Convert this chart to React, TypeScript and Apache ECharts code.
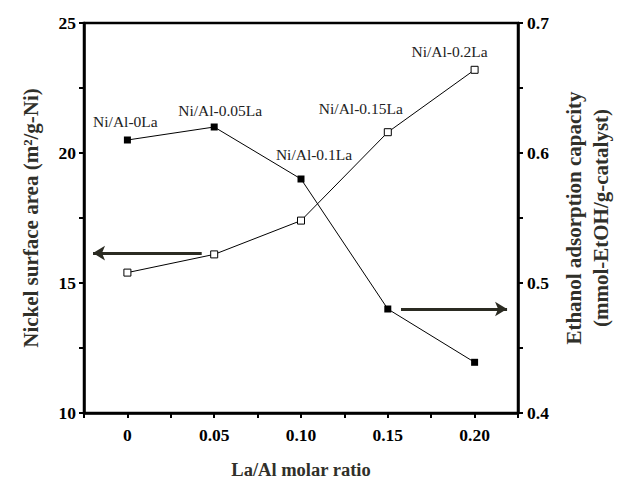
import React, { useEffect, useRef } from "react";
import * as echarts from "echarts";

const ratios = [0, 0.05, 0.1, 0.15, 0.2];
const nickelArea = [20.5, 21.0, 19.0, 14.0, 11.95];
const ethanolAds = [0.508, 0.522, 0.548, 0.616, 0.664];
const sampleNames = ["Ni/Al-0La", "Ni/Al-0.05La", "Ni/Al-0.1La", "Ni/Al-0.15La", "Ni/Al-0.2La"];
// which series carries each sample label: 0 = nickel, 1 = ethanol
const labelOwner = [0, 0, 0, 1, 1];
const xTickLabels = ["0", "0.05", "0.10", "0.15", "0.20"];
const leftArrow = [[0.0428, 16.15], [-0.0198, 16.15]];
const rightArrow = [[0.1576, 0.48], [0.2187, 0.48]];

const labelOffsets: number[][] = [[-2, -2], [6, 0], [13, -8], [-27, -7], [-25, -1]];

const SERIF = '"Liberation Serif", "Times New Roman", serif';
const NAME_COLOR = "#30302a";

export default function App() {
  const ref = useRef<HTMLDivElement>(null);
  useEffect(() => {
    if (!ref.current) return;
    const chart = echarts.init(ref.current, null, { renderer: "svg" });
    const mkData = (vals: number[], owner: number) =>
      vals.map((v, i) => ({
        value: [ratios[i], v],
        label:
          labelOwner[i] === owner
            ? {
                show: true,
                position: "top",
                formatter: sampleNames[i],
                offset: labelOffsets[i],
                fontFamily: SERIF,
                fontSize: 15.5,
                color: "#222",
              }
            : { show: false },
      }));
    const xFmt = (v: number) => {
      const k = v / 0.05;
      if (Math.abs(k - Math.round(k)) > 1e-6) return "";
      const idx = Math.round(k);
      return idx >= 0 && idx < xTickLabels.length ? xTickLabels[idx] : "";
    };
    const arrowLine = (pts: number[][]) => ({
      silent: true,
      symbol: ["none", "arrow"],
      symbolSize: [11, 12],
      label: { show: false },
      lineStyle: { color: "#2b2b22", width: 3, type: "solid" },
      data: [[{ coord: pts[0] }, { coord: pts[1] }]],
    });
    const tickFont = {
      fontFamily: SERIF,
      fontSize: 17.5,
      fontWeight: "bold",
      color: "#000",
    };
    chart.setOption({
      animation: false,
      backgroundColor: "#fff",
      grid: {
        left: 84,
        right: 109,
        top: 23,
        bottom: 74,
        containLabel: false,
        outerBoundsMode: "none",
        show: true,
        borderColor: "#000",
        borderWidth: 2.5,
      },
      xAxis: {
        type: "value",
        min: -0.025,
        max: 0.225,
        interval: 0.025,
        name: "La/Al molar ratio",
        nameLocation: "middle",
        nameGap: 47,
        nameTextStyle: { fontFamily: SERIF, fontSize: 18.5, fontWeight: "bold", color: NAME_COLOR },
        axisLine: { onZero: false, lineStyle: { color: "#000", width: 2.5 } },
        axisTick: { show: true, inside: false, length: 5, lineStyle: { color: "#000", width: 2 } },
        axisLabel: {
          formatter: xFmt,
          margin: 13,
          ...tickFont,
          showMinLabel: true,
          showMaxLabel: true,
        },
        splitLine: { show: false },
      },
      yAxis: [
        {
          type: "value",
          position: "left",
          min: 10,
          max: 25,
          interval: 2.5,
          name: "Nickel surface area (m²/g-Ni)",
          nameLocation: "middle",
          nameGap: 43,
          nameTextStyle: { fontFamily: SERIF, fontSize: 21, fontWeight: "bold", color: NAME_COLOR },
          axisLine: { show: true, onZero: false, lineStyle: { color: "#000", width: 2.5 } },
          axisTick: { show: true, length: 5, lineStyle: { color: "#000", width: 2 } },
          axisLabel: {
            formatter: (v: number) => (Math.abs(v % 5) < 1e-6 ? String(v) : ""),
            margin: 8,
            ...tickFont,
          },
          splitLine: { show: false },
        },
        {
          type: "value",
          position: "right",
          min: 0.4,
          max: 0.7,
          interval: 0.05,
          name: "Ethanol adsorption capacity\n(mmol-EtOH/g-catalyst)",
          nameLocation: "middle",
          nameGap: 42,
          nameTextStyle: {
            fontFamily: SERIF,
            fontSize: 21,
            fontWeight: "bold",
            color: NAME_COLOR,
            lineHeight: 27,
          },
          axisLine: { show: true, onZero: false, lineStyle: { color: "#000", width: 2.5 } },
          axisTick: { show: true, length: 5, lineStyle: { color: "#000", width: 2 } },
          axisLabel: {
            formatter: (v: number) => {
              const k = v / 0.1;
              return Math.abs(k - Math.round(k)) < 1e-6 ? v.toFixed(1) : "";
            },
            margin: 9,
            ...tickFont,
          },
          splitLine: { show: false },
        },
      ],
      series: [
        {
          name: "Nickel surface area",
          type: "line",
          yAxisIndex: 0,
          data: mkData(nickelArea, 0),
          symbol: "rect",
          symbolSize: 7,
          itemStyle: { color: "#000" },
          lineStyle: { color: "#000", width: 1 },
          markLine: arrowLine(leftArrow),
          z: 3,
        },
        {
          name: "Ethanol adsorption capacity",
          type: "line",
          yAxisIndex: 1,
          data: mkData(ethanolAds, 1),
          symbol: "rect",
          symbolSize: 7,
          itemStyle: { color: "#fff", borderColor: "#000", borderWidth: 1 },
          lineStyle: { color: "#000", width: 1 },
          markLine: arrowLine(rightArrow),
          z: 3,
        },
      ],
    });
    return () => chart.dispose();
  }, []);
  return <div ref={ref} style={{ width: 627, height: 487, position: "absolute", left: 0, top: 0 }} />;
}
